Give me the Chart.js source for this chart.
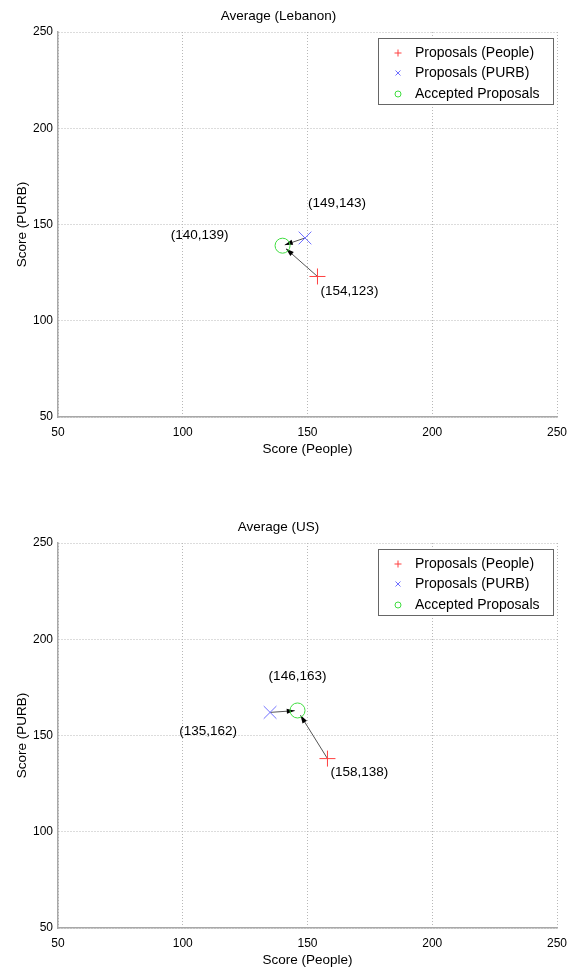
<!DOCTYPE html>
<html>
<head>
<meta charset="utf-8">
<script src="https://cdn.jsdelivr.net/npm/chart.js@4.4.1/dist/chart.umd.min.js"></script>
<style>
  html, body { margin: 0; padding: 0; background: #fff; }
  body { width: 569px; height: 971px; position: relative; overflow: hidden; }
  .panel { position: absolute; left: 0; width: 569px; height: 460px; }
  #panel-top { top: 0; }
  #panel-bottom { top: 511px; }
</style>
</head>
<body>
<div class="panel" id="panel-top"><canvas id="chartLebanon" width="569" height="460"></canvas></div>
<div class="panel" id="panel-bottom"><canvas id="chartUS" width="569" height="460"></canvas></div>
<script>
// Datos
const titles = ['Average (Lebanon)', 'Average (US)'];
const peopleX = [154, 158];
const peopleY = [123, 138];
const purbX = [149, 135];
const purbY = [143, 162];
const acceptedX = [140, 146];
const acceptedY = [139, 163];
const axisTicks = [50, 100, 150, 200, 250];
const legendLabels = ['Proposals (People)', 'Proposals (PURB)', 'Accepted Proposals'];

// Estilos
const FONT = 'Liberation Sans, Arial, Helvetica, sans-serif';
const RED = '#ff4040';
const BLUE = '#7070ff';
const GREEN = '#40dd40';
// desplazamiento de etiquetas en píxeles: [people, purb, accepted]
const labelOffsets = [
    [[32, 15], [32, -35], [-83, -10]],
    [[32, 14], [-62, 19], [0, -34]]
];

/**
 * Flechas desde cada propuesta hacia la propuesta aceptada
 */
const arrowPlugin = {
    id: 'arrows',
    beforeDatasetsDraw(chart) {
        const i = chart.options.plugins.arrows.index;
        const { ctx, scales: { x, y } } = chart;
        const end = [x.getPixelForValue(acceptedX[i]), y.getPixelForValue(acceptedY[i])];
        const starts = [
            [x.getPixelForValue(peopleX[i]), y.getPixelForValue(peopleY[i])],
            [x.getPixelForValue(purbX[i]), y.getPixelForValue(purbY[i])]
        ];
        ctx.save();
        starts.forEach(s => {
            const tx = s[0] + 0.9 * (end[0] - s[0]);
            const ty = s[1] + 0.9 * (end[1] - s[1]);
            const ang = Math.atan2(ty - s[1], tx - s[0]);
            ctx.strokeStyle = '#555';
            ctx.lineWidth = 1;
            ctx.beginPath();
            ctx.moveTo(s[0], s[1]);
            ctx.lineTo(tx, ty);
            ctx.stroke();
            // punta
            const len = 8, half = 2.6;
            ctx.fillStyle = '#000';
            ctx.beginPath();
            ctx.moveTo(tx, ty);
            ctx.lineTo(tx - len * Math.cos(ang) + half * Math.sin(ang), ty - len * Math.sin(ang) - half * Math.cos(ang));
            ctx.lineTo(tx - len * Math.cos(ang) - half * Math.sin(ang), ty - len * Math.sin(ang) + half * Math.cos(ang));
            ctx.closePath();
            ctx.fill();
        });
        ctx.restore();
    }
};

/**
 * Etiquetas de coordenadas y leyenda
 */
const annotationPlugin = {
    id: 'annotations',
    afterDatasetsDraw(chart) {
        const i = chart.options.plugins.annotations.index;
        const { ctx, scales: { x, y }, chartArea } = chart;
        const pts = [
            [peopleX[i], peopleY[i]],
            [purbX[i], purbY[i]],
            [acceptedX[i], acceptedY[i]]
        ];
        ctx.save();
        ctx.font = '13.5px ' + FONT;
        ctx.fillStyle = '#000';
        ctx.textAlign = 'center';
        ctx.textBaseline = 'middle';
        pts.forEach((p, k) => {
            const px = x.getPixelForValue(p[0]) + labelOffsets[i][k][0];
            const py = y.getPixelForValue(p[1]) + labelOffsets[i][k][1];
            ctx.fillText(`(${p[0]},${p[1]})`, px, py);
        });

        // Leyenda
        const left = Math.round(chartArea.right) - 179;
        const top = Math.round(chartArea.top) + 6;
        ctx.fillStyle = '#fff';
        ctx.fillRect(left, top, 175, 66);
        ctx.strokeStyle = '#666';
        ctx.lineWidth = 1;
        ctx.strokeRect(left + 0.5, top + 0.5, 175, 66);

        const mx = left + 20;
        const rows = [top + 15, top + 35, top + 56];
        ctx.lineWidth = 1;
        // +
        ctx.strokeStyle = RED;
        ctx.beginPath();
        ctx.moveTo(mx - 3.5, rows[0]); ctx.lineTo(mx + 3.5, rows[0]);
        ctx.moveTo(mx, rows[0] - 3.5); ctx.lineTo(mx, rows[0] + 3.5);
        ctx.stroke();
        // x
        ctx.strokeStyle = BLUE;
        ctx.beginPath();
        ctx.moveTo(mx - 2.5, rows[1] - 2.5); ctx.lineTo(mx + 2.5, rows[1] + 2.5);
        ctx.moveTo(mx - 2.5, rows[1] + 2.5); ctx.lineTo(mx + 2.5, rows[1] - 2.5);
        ctx.stroke();
        // o
        ctx.strokeStyle = GREEN;
        ctx.beginPath();
        ctx.arc(mx, rows[2], 3, 0, Math.PI * 2);
        ctx.stroke();

        ctx.fillStyle = '#000';
        ctx.textAlign = 'left';
        ctx.font = '14px ' + FONT;
        legendLabels.forEach((t, k) => ctx.fillText(t, left + 37, rows[k]));
        ctx.restore();
    }
};

function buildChart(canvasId, i) {
    const axisFont = { family: FONT, size: 12 };
    const titleFont = { family: FONT, size: 13.5, weight: 'normal' };
    const grid = { color: '#b8b8b8', lineWidth: 1, drawTicks: false };
    const border = { color: '#a8a8a8', width: 1.5, dash: [1, 2] };

    return new Chart(document.getElementById(canvasId), {
        type: 'scatter',
        data: {
            datasets: [
                {
                    label: legendLabels[0],
                    data: [{ x: peopleX[i], y: peopleY[i] }],
                    pointStyle: 'cross',
                    pointRadius: 8,
                    borderColor: RED,
                    backgroundColor: RED,
                    borderWidth: 1
                },
                {
                    label: legendLabels[1],
                    data: [{ x: purbX[i], y: purbY[i] }],
                    pointStyle: 'crossRot',
                    pointRadius: 9,
                    borderColor: BLUE,
                    backgroundColor: BLUE,
                    borderWidth: 1
                },
                {
                    label: legendLabels[2],
                    data: [{ x: acceptedX[i], y: acceptedY[i] }],
                    pointStyle: 'circle',
                    pointRadius: 7.5,
                    borderColor: GREEN,
                    backgroundColor: 'rgba(0,0,0,0)',
                    borderWidth: 1
                }
            ]
        },
        options: {
            responsive: false,
            animation: false,
            layout: { padding: { left: 0, right: 12, top: 0, bottom: 0 } },
            plugins: {
                legend: { display: false },
                tooltip: { enabled: false },
                title: {
                    display: true,
                    text: titles[i],
                    color: '#000',
                    font: titleFont,
                    padding: { top: 8, bottom: 7.8 }
                },
                arrows: { index: i },
                annotations: { index: i }
            },
            scales: {
                x: {
                    type: 'linear',
                    min: axisTicks[0],
                    max: axisTicks[axisTicks.length - 1],
                    afterBuildTicks: s => { s.ticks = axisTicks.map(v => ({ value: v })); },
                    ticks: { color: '#000', font: axisFont, padding: 8, maxRotation: 0 },
                    grid: grid,
                    border: border,
                    title: { display: true, text: 'Score (People)', color: '#000', font: titleFont, padding: { top: 0, bottom: 3 } },
                    afterFit: s => { s.height = 43; s.paddingLeft = 0; s.paddingRight = 0; }
                },
                y: {
                    type: 'linear',
                    min: axisTicks[0],
                    max: axisTicks[axisTicks.length - 1],
                    afterBuildTicks: s => { s.ticks = axisTicks.map(v => ({ value: v })); },
                    ticks: { color: '#000', font: axisFont, padding: 5 },
                    grid: grid,
                    border: border,
                    title: { display: true, text: 'Score (PURB)', color: '#000', font: titleFont, padding: { top: 14, bottom: 0 } },
                    afterFit: s => { s.width = 58; s.paddingTop = 0; s.paddingBottom = 0; }
                }
            }
        },
        plugins: [arrowPlugin, annotationPlugin]
    });
}

buildChart('chartLebanon', 0);
buildChart('chartUS', 1);
</script>
</body>
</html>
